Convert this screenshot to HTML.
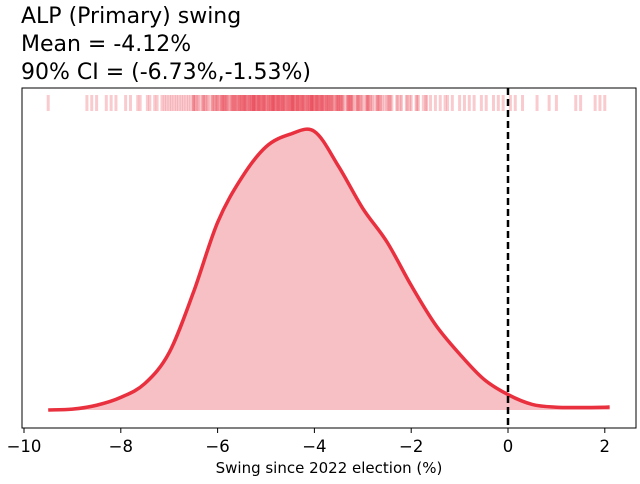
<!DOCTYPE html>
<html><head><meta charset="utf-8"><style>
body{margin:0;background:#fff;font-family:"DejaVu Sans","Liberation Sans",sans-serif}
</style></head><body>
<svg width="640" height="480" xmlns="http://www.w3.org/2000/svg">
<text x="21" y="23" font-size="22" font-family="DejaVu Sans, Liberation Sans, sans-serif">ALP (Primary) swing</text>
<text x="21" y="51" font-size="22" font-family="DejaVu Sans, Liberation Sans, sans-serif">Mean = -4.12%</text>
<text x="21" y="79" font-size="22" font-family="DejaVu Sans, Liberation Sans, sans-serif">90% CI = (-6.73%,-1.53%)</text>
<g id="rug"></g>
<path id="area" fill="#f7c0c5" stroke="none"/>
<path id="line" fill="none" stroke="#e8303e" stroke-width="3.5" stroke-linejoin="round"/>
<line id="zero" y1="88" y2="428" stroke="#000" stroke-width="2.5" stroke-dasharray="7,4"/>
<rect x="22" y="88" width="614" height="340" fill="none" stroke="#000" stroke-width="1"/>
<g id="xticks"></g>
<text x="329" y="473" font-size="15" text-anchor="middle" font-family="DejaVu Sans, Liberation Sans, sans-serif">Swing since 2022 election (%)</text>
</svg>
<script>
const kdeX=[-9.5,-9,-8.5,-8,-7.5,-7,-6.5,-6,-5.5,-5,-4.5,-4,-3.5,-3,-2.5,-2,-1.5,-1,-0.5,0,0.5,1,1.5,2,2.1];
const kdeY=[0.0,0.003,0.017,0.045,0.095,0.205,0.42,0.67,0.83,0.94,0.985,0.995,0.87,0.72,0.6,0.445,0.305,0.2,0.11,0.055,0.02,0.01,0.009,0.01,0.011];
const tickVals=[-10,-8,-6,-4,-2,0,2];
const tickLabels=["\u221210","\u22128","\u22126","\u22124","\u22122","0","2"];
const rugVals=[-9.5,-8.7,-8.6,-8.5,-8.3,-8.2,-8.1,-7.9,-7.8,-7.65,-7.6,-7.45,-7.4,-7.3,-7.25,-7.15,-7.1,-7.05,-7.0,-6.95,-6.9,-6.85,-6.8,-6.75,-6.7,-6.65,-6.6,-6.55,-6.5,-6.45,-6.4,-6.35,-6.3,-6.25,-6.2,-6.15,-6.1,-6.05,-6.0,-5.95,-5.9,-5.85,-5.8,-5.75,-5.7,-5.65,-5.6,-5.55,-5.5,-5.45,-5.4,-5.35,-5.3,-5.25,-5.2,-5.15,-5.1,-5.05,-5.0,-4.95,-4.9,-4.85,-4.8,-4.75,-4.7,-4.65,-4.6,-4.55,-4.5,-4.45,-4.4,-4.35,-4.3,-4.25,-4.2,-4.15,-4.1,-4.05,-4.0,-3.95,-3.9,-3.85,-3.8,-3.75,-3.7,-3.65,-3.6,-3.55,-3.5,-3.45,-3.4,-3.35,-3.3,-3.25,-3.2,-3.15,-3.1,-3.05,-3.0,-2.95,-2.9,-2.85,-2.8,-2.75,-2.7,-2.65,-2.6,-2.55,-2.5,-2.45,-2.4,-2.3,-2.2,-2.1,-2.0,-1.9,-1.85,-1.75,-1.7,-1.6,-1.5,-1.4,-1.3,-1.25,-1.15,-1.0,-0.9,-0.8,-0.7,-0.55,-0.45,-0.3,-0.2,-0.1,0.05,0.15,0.3,0.6,0.85,1.0,1.4,1.5,1.8,1.9,2.0,
-6.5,-6.3,-6.1,-5.9,-5.7,-5.5,-5.3,-5.1,-4.9,-4.7,-4.5,-4.3,-4.1,-3.9,-3.7,-3.5,-3.3,-3.1,-2.9,-2.7,-6.02,-5.82,-5.62,-5.42,-5.22,-5.02,-4.82,-4.62,-4.42,-4.22,-4.02,-3.82,-3.62,-3.42,-3.22,-5.96,-5.56,-5.16,-4.76,-4.36,-3.96,-3.56,-5.78,-5.38,-4.98,-4.58,-4.18,-3.78,-5.58,-5.18,-4.78,-4.38,-3.98,
-6.48,-6.28,-6.08,-5.88,-5.68,-5.48,-5.28,-5.08,-4.88,-4.68,-4.48,-4.28,-4.08,-3.88,-3.68,-3.48,-3.28,-3.08,-2.88,-2.68,-2.48,-2.28,-2.08,-1.88,-1.68,-6.42,-6.22,-6.02,-5.83,-5.63,-5.43,-5.23,-5.03,-4.83,-4.63,-4.43,-4.23,-4.03,-3.83,-3.63,-3.43,-3.23,-3.03,-2.83,-2.63,-2.43,-2.23,-2.03,-5.92,-5.72,-5.52,-5.32,-5.12,-4.92,-4.72,-4.52,-4.32,-4.12,-3.92,-3.72,-3.52,-3.32,-3.12,-2.92,-5.86,-5.66,-5.46,-5.26,-5.06,-4.86,-4.66,-4.46,-4.26,-4.06,-3.86,-3.66,-3.46,-3.26,-5.54,-5.34,-5.14,-4.94,-4.74,-4.54,-4.34,-4.14,-3.94,-3.74,-3.54,-5.44,-5.24,-5.04,-4.84,-4.64,-4.44,-4.24,-4.04,-3.84,-5.36,-4.96,-4.56,-4.16,-3.76,-5.26,-4.86,-4.46,-4.06,-5.16,-4.76,-4.36,-3.96];
const NS='http://www.w3.org/2000/svg';
const xs=v=>508+48.4*v;
const ys=d=>410-280*d;
let pts=kdeX.map((v,i)=>[xs(v),ys(kdeY[i])]);
function smooth(p){let d='M'+p[0][0]+','+p[0][1];for(let i=0;i<p.length-1;i++){const p0=p[i-1]||p[i],p1=p[i],p2=p[i+1],p3=p[i+2]||p2;d+=' C'+(p1[0]+(p2[0]-p0[0])/6)+','+(p1[1]+(p2[1]-p0[1])/6)+' '+(p2[0]-(p3[0]-p1[0])/6)+','+(p2[1]-(p3[1]-p1[1])/6)+' '+p2[0]+','+p2[1];}return d;}
const d=smooth(pts);
document.getElementById('line').setAttribute('d',d);
document.getElementById('area').setAttribute('d',d+' L'+pts[pts.length-1][0]+',410 L'+pts[0][0]+',410 Z');
document.getElementById('zero').setAttribute('x1',xs(0));
document.getElementById('zero').setAttribute('x2',xs(0));
const rug=document.getElementById('rug');
rugVals.forEach(v=>{const l=document.createElementNS(NS,'line');


l.setAttribute('x1',xs(v));l.setAttribute('x2',xs(v));l.setAttribute('y1',95);l.setAttribute('y2',111);
l.setAttribute('stroke','#e8303e');l.setAttribute('stroke-opacity','0.25');l.setAttribute('stroke-width','3');rug.appendChild(l);});
const xt=document.getElementById('xticks');
tickVals.forEach((v,i)=>{const l=document.createElementNS(NS,'line');


l.setAttribute('x1',xs(v));l.setAttribute('x2',xs(v));l.setAttribute('y1',428);l.setAttribute('y2',433);l.setAttribute('stroke','#000');xt.appendChild(l);
const t=document.createElementNS(NS,'text');


t.setAttribute('x',xs(v));t.setAttribute('y',452);t.setAttribute('font-size','16.5');t.setAttribute('text-anchor','middle');
t.setAttribute('font-family','DejaVu Sans, Liberation Sans, sans-serif');t.textContent=tickLabels[i];xt.appendChild(t);});
</script>
</body></html>
